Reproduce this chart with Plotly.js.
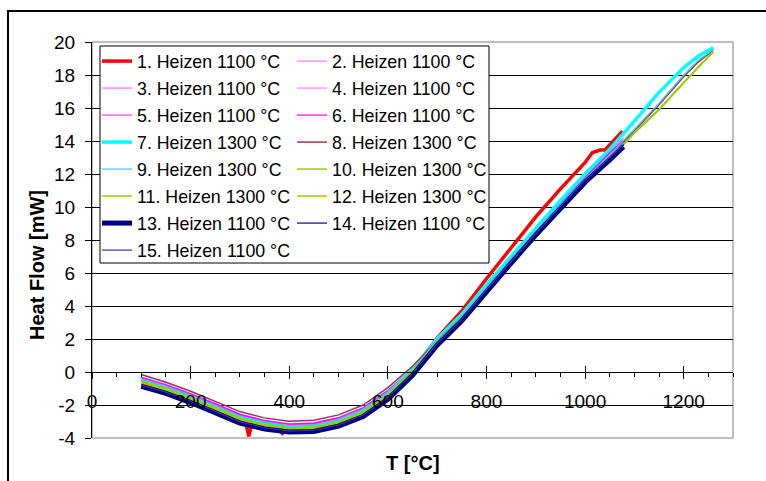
<!DOCTYPE html>
<html><head><meta charset="utf-8">
<script src="https://cdn.plot.ly/plotly-3.0.1.min.js"></script>
<style>html,body{margin:0;padding:0;background:#fff}#c{width:766px;height:481px}</style>
</head><body><div id="c"></div>
<script>
// ---- data ----
const T1100 = [100,150,200,250,300,350,400,450,500,550,600,650,700,750,800,850,900,950,1000,1050,1078];
const T1300 = [100,150,200,250,300,350,400,450,500,550,600,650,700,750,800,850,900,950,1000,1050,1100,1150,1200,1230,1260];
const Tred  = [100,150,200,250,300,312,318,324,350,380,386,392,400,450,500,550,600,650,700,750,800,850,900,950,1000,1015,1030,1040,1055,1070,1076];

const s1  = [-0.75,-1.20,-1.75,-2.35,-3.00,-3.10,-3.90,-3.15,-3.37,-3.50,-3.72,-3.52,-3.55,-3.50,-3.18,-2.55,-1.45,0.05,2.05,3.70,5.65,7.55,9.40,11.10,12.70,13.30,13.45,13.45,13.90,14.40,14.60];
const s2  = [-0.35,-0.80,-1.33,-1.95,-2.58,-2.97,-3.18,-3.14,-2.80,-2.20,-1.15,0.20,1.85,3.35,5.15,6.85,8.55,10.25,11.85,13.35,14.10];
const s3  = [-0.40,-0.86,-1.40,-2.00,-2.66,-3.02,-3.22,-3.19,-2.85,-2.26,-1.20,0.12,1.80,3.30,5.10,6.80,8.50,10.20,11.80,13.30,14.00];
const s4  = [-0.30,-0.75,-1.30,-1.90,-2.55,-2.93,-3.13,-3.08,-2.76,-2.16,-1.12,0.25,1.90,3.40,5.20,6.90,8.60,10.30,11.90,13.40,14.20];
const s5  = [-0.38,-0.83,-1.38,-1.98,-2.63,-3.00,-3.20,-3.16,-2.83,-2.23,-1.18,0.10,1.75,3.25,5.05,6.75,8.45,10.15,11.75,13.25,13.95];
const s6  = [-0.32,-0.77,-1.32,-1.92,-2.57,-2.94,-3.15,-3.10,-2.77,-2.17,-1.12,0.18,1.80,3.30,5.10,6.80,8.50,10.20,11.80,13.30,14.05];
const s7  = [-0.50,-0.95,-1.50,-2.10,-2.75,-3.12,-3.33,-3.28,-2.95,-2.35,-1.30,0.15,2.00,3.50,5.30,7.00,8.70,10.40,12.00,13.50,15.20,16.95,18.45,19.15,19.65];
const s8  = [-0.15,-0.62,-1.17,-1.78,-2.40,-2.78,-2.98,-2.93,-2.60,-2.00,-0.95,0.35,1.90,3.35,5.10,6.80,8.45,10.10,11.65,13.10,14.60,16.20,17.90,18.80,19.50];
const s9  = [-0.45,-0.90,-1.45,-2.05,-2.70,-3.07,-3.28,-3.23,-2.90,-2.30,-1.25,0.15,1.95,3.40,5.15,6.85,8.50,10.15,11.70,13.15,14.70,16.30,18.00,18.90,19.55];
const s10 = [-0.60,-1.05,-1.60,-2.20,-2.85,-3.22,-3.43,-3.38,-3.05,-2.45,-1.40,0.05,1.80,3.25,5.00,6.65,8.30,9.90,11.45,12.85,14.50,15.90,17.55,18.50,19.40];
const s11 = [-0.55,-1.00,-1.55,-2.15,-2.80,-3.17,-3.38,-3.33,-3.00,-2.40,-1.35,0.08,1.82,3.28,5.02,6.68,8.32,9.92,11.48,12.88,14.52,15.92,17.58,18.52,19.38];
const s12 = [-0.65,-1.10,-1.65,-2.25,-2.90,-3.27,-3.48,-3.43,-3.10,-2.50,-1.45,0.02,1.78,3.22,4.98,6.62,8.28,9.88,11.42,12.82,14.48,15.88,17.52,18.48,19.42];
const s13 = [-0.87,-1.30,-1.85,-2.45,-3.10,-3.45,-3.63,-3.60,-3.28,-2.70,-1.65,-0.20,1.62,3.10,4.90,6.60,8.30,9.95,11.50,12.85,13.65];
const s14 = [-0.80,-1.25,-1.80,-2.40,-3.05,-3.42,-3.62,-3.58,-3.25,-2.65,-1.60,-0.15,1.68,3.15,4.95,6.65,8.35,10.00,11.55,12.95,13.75];
const s15 = [-0.78,-1.22,-1.77,-2.37,-3.02,-3.38,-3.58,-3.53,-3.20,-2.60,-1.55,-0.10,1.72,3.20,5.00,6.70,8.40,10.05,11.60,13.00,13.80];

const names = ["1. Heizen 1100 °C","2. Heizen 1100 °C","3. Heizen 1100 °C","4. Heizen 1100 °C","5. Heizen 1100 °C",
  "6. Heizen 1100 °C","7. Heizen 1300 °C","8. Heizen 1300 °C","9. Heizen 1300 °C","10. Heizen 1300 °C",
  "11. Heizen 1300 °C","12. Heizen 1300 °C","13. Heizen 1100 °C","14. Heizen 1100 °C","15. Heizen 1100 °C"];
const xTicks = [0,200,400,600,800,1000,1200];
const yTicks = [-4,-2,0,2,4,6,8,10,12,14,16,18,20];

// ---- styles ----
const xs = [Tred,T1100,T1100,T1100,T1100,T1100,T1300,T1300,T1300,T1300,T1300,T1300,T1100,T1100,T1100];
const ys = [s1,s2,s3,s4,s5,s6,s7,s8,s9,s10,s11,s12,s13,s14,s15];
const colors = ["#FF0000","#FF80FF","#FF66FF","#FF80FF","#FF33FF","#FF00FF","#00FFFF","#993366","#33CCFF",
  "#99CC00","#99CC00","#99CC00","#000080","#000080","#333399"];
const widths = [3.5,1.2,1.2,1.2,1.2,1.2,3.5,1.5,1.2,1.5,1.5,1.5,5,1.2,1.2];

const FONT = "Liberation Sans, Arial, sans-serif";
const LEGFONT = 17.8;
const GAP = 27 - (LEGFONT*1.3 + 3);
const traces = ys.map((y,i)=>({
  type:"scatter", mode:"lines", x:xs[i], y:y, name:names[i],
  line:{color:colors[i], width:widths[i]},
  legend: (i%2===0) ? "legend" : "legend2",
  legendgroup:"g"+i,
  hoverinfo:"skip"
}));
traces.push({type:"scatter", mode:"lines", x:[], y:[], xaxis:"x2", yaxis:"y", showlegend:false});

const L = 92, R = 733, TOP = 42, BOT = 438;
const W = R-L, H = BOT-TOP;
const px = v => (v-L)/W, py = v => (BOT-v)/H;

const legendBase = {xanchor:"left", yanchor:"top", orientation:"v",
  bgcolor:"rgba(0,0,0,0)", borderwidth:0, font:{size:LEGFONT, family:FONT}, itemwidth:30, tracegroupgap:GAP};

const layout = {
  width:766, height:481,
  margin:{l:L, r:766-R, t:TOP, b:481-BOT, pad:0},
  paper_bgcolor:"#fff", plot_bgcolor:"#fff",
  font:{family:FONT, color:"#000"},
  showlegend:true,
  xaxis:{
    range:[0,1300], tickvals:xTicks, ticktext:xTicks.map(String),
    anchor:"free", position:4/24,
    showline:true, linecolor:"#000", linewidth:1,
    ticks:"outside", ticklen:6, tickcolor:"#000",
    minor:{dtick:50, tick0:0, ticks:"outside", ticklen:4, tickcolor:"#000", showgrid:false},
    showgrid:false, zeroline:false,
    tickfont:{size:19, family:FONT}, ticklabelstandoff:6
  },
  xaxis2:{
    range:[0,1300], overlaying:"x", anchor:"free", position:4/24,
    tickvals:xTicks, ticks:"inside", ticklen:6, tickcolor:"#000",
    showticklabels:false, showline:false, showgrid:false, zeroline:false
  },
  yaxis:{
    range:[-4,20], tickvals:yTicks, ticktext:yTicks.map(String),
    showline:true, linecolor:"#000", linewidth:1,
    ticks:"outside", ticklen:6, tickcolor:"#000",
    showgrid:true, gridcolor:"#000", gridwidth:1, zeroline:false,
    tickfont:{size:19, family:FONT}, ticklabelstandoff:6
  },
  legend:Object.assign({x:px(97), y:py(43)}, legendBase),
  legend2:Object.assign({x:px(292), y:py(43)}, legendBase),
  shapes:[
    {type:"rect", xref:"paper", yref:"paper", x0:0, x1:1, y0:0, y1:1, line:{color:"#808080", width:1}, layer:"between"},
    {type:"rect", xref:"paper", yref:"paper", x0:px(100), x1:px(489), y0:py(263), y1:py(46), line:{color:"#000", width:1}, fillcolor:"#fff", layer:"above"},
    {type:"rect", xref:"paper", yref:"paper", x0:px(8), x1:px(800), y0:py(520), y1:py(11), line:{color:"#000", width:2}, layer:"above"}
  ],
  annotations:[
    {text:"<b>Heat Flow [mW]</b>", xref:"paper", yref:"paper", x:px(37), y:py(265), textangle:-90,
      showarrow:false, xanchor:"center", yanchor:"middle", font:{size:20, family:FONT}},
    {text:"<b>T [°C]</b>", xref:"paper", yref:"paper", x:px(413), y:py(463),
      showarrow:false, xanchor:"center", yanchor:"middle", font:{size:20, family:FONT}}
  ]
};
Plotly.newPlot("c", traces, layout, {displayModeBar:false, staticPlot:true});
</script></body></html>
